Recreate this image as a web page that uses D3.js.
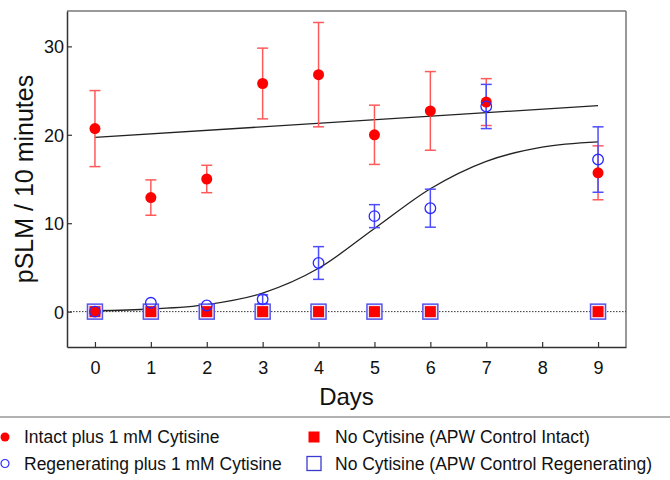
<!DOCTYPE html>
<html>
<head>
<meta charset="utf-8">
<script src="https://cdn.jsdelivr.net/npm/d3@7"></script>
<style>
  body { margin: 0; background: #fff; }
  svg { font-family: "Liberation Sans", Arial, sans-serif; }
</style>
</head>
<body>
<div id="viz"></div>
<script>
const days = [0, 1, 2, 3, 4, 5, 6, 7, 9]
const intactMean = [20.7, 12.9, 15.0, 25.8, 26.8, 20.0, 22.7, 23.7, 15.7]
const intactErr = [4.3, 2.0, 1.55, 4.0, 5.9, 3.35, 4.45, 2.65, 3.05]
const regenMean = [0, 1.0, 0.7, 1.4, 5.5, 10.8, 11.7, 23.2, 17.2]
const regenErr = [0, 0, 0, 0.5, 1.85, 1.3, 2.15, 2.5, 3.7]
const controlDays = [0, 1, 2, 3, 4, 5, 6, 9]
const controlIntact = [0, 0, 0, 0, 0, 0, 0, 0]
const controlRegen = [0, 0, 0, 0, 0, 0, 0, 0]

// fitted curves
const linearFitDays = [0, 9]
const linearFit = [19.7, 23.3]
const sigmoidDays = [0, 1, 2, 3, 4, 5, 6, 7, 8, 9]
const sigmoidFit = [0.1, 0.3, 0.8, 2.1, 4.9, 9.4, 13.9, 17.0, 18.6, 19.2]

const xTicks = [0, 1, 2, 3, 4, 5, 6, 7, 8, 9]
const yTicks = [0, 10, 20, 30]

const legendItems = [
  {label: "Intact plus 1 mM Cytisine", type: "dot", col: 0, row: 0},
  {label: "Regenerating plus 1 mM Cytisine", type: "ring", col: 0, row: 1},
  {label: "No Cytisine (APW Control Intact)", type: "redsq", col: 1, row: 0},
  {label: "No Cytisine (APW Control Regenerating)", type: "bluesq", col: 1, row: 1}
]

const W = 670, H = 480
const pLeft = 67, pRight = 626, pTop = 11, pBottom = 347

const svg = d3.select("#viz").append("svg").attr("width", W).attr("height", H)

const x = d3.scaleLinear().domain([-0.5, 9.5]).range([pLeft, pRight])
const y = d3.scaleLinear().domain([-4, 34]).range([pBottom, pTop])

// frame: top and right in gray
svg.append("line").attr("x1", pLeft).attr("x2", pRight).attr("y1", pTop).attr("y2", pTop)
  .attr("stroke", "#777").attr("stroke-width", 1.5)
svg.append("line").attr("x1", pRight).attr("x2", pRight).attr("y1", pTop).attr("y2", pBottom)
  .attr("stroke", "#777").attr("stroke-width", 1.5)

// axes, ticks pointing inward
const xAxis = svg.append("g").attr("transform", `translate(0,${pBottom})`)
  .call(d3.axisBottom(x).tickValues(xTicks).tickSizeInner(-5).tickSizeOuter(0).tickPadding(14))
const yAxis = svg.append("g").attr("transform", `translate(${pLeft},0)`)
  .call(d3.axisLeft(y).tickValues(yTicks).tickSizeInner(-5).tickSizeOuter(0).tickPadding(3))

for (const g of [xAxis, yAxis]) {
  g.select(".domain").attr("stroke", "#333").attr("stroke-width", 1.5)
  g.selectAll(".tick line").attr("stroke", "#333").attr("stroke-width", 1.2)
  g.selectAll(".tick text").attr("fill", "#111").attr("font-size", 18)
    .attr("font-family", "Liberation Sans, Arial, sans-serif")
}
yAxis.selectAll(".tick text").attr("dy", "0.36em")

// axis titles
svg.append("text").attr("x", (pLeft + pRight) / 2).attr("y", 405)
  .attr("text-anchor", "middle").attr("font-size", 24).attr("fill", "#111").text("Days")
svg.append("text").attr("transform", `translate(33,${(pTop + pBottom) / 2}) rotate(-90)`)
  .attr("text-anchor", "middle").attr("font-size", 25).attr("fill", "#111").text("pSLM / 10 minutes")

// zero line
svg.append("line").attr("x1", pLeft).attr("x2", pRight).attr("y1", y(0)).attr("y2", y(0))
  .attr("stroke", "#333").attr("stroke-width", 1).attr("stroke-dasharray", "1.5,1.5")

// fits
const line = d3.line().x(d => x(d[0])).y(d => y(d[1]))
svg.append("path").attr("d", line(d3.zip(linearFitDays, linearFit)))
  .attr("fill", "none").attr("stroke", "#222").attr("stroke-width", 1.3)
svg.append("path").attr("d", line.curve(d3.curveMonotoneX)(d3.zip(sigmoidDays, sigmoidFit)))
  .attr("fill", "none").attr("stroke", "#222").attr("stroke-width", 1.3)

// control squares
svg.selectAll(".bsq").data(controlDays).enter().append("rect").attr("class", "bsq")
  .attr("x", (d) => x(d) - 7.5).attr("y", (d, i) => y(controlRegen[i]) - 7.5)
  .attr("width", 15).attr("height", 15)
  .attr("fill", "#f4e8f4").attr("stroke", "#5555ee").attr("stroke-width", 1.5)
svg.selectAll(".rsq").data(controlDays).enter().append("rect").attr("class", "rsq")
  .attr("x", (d) => x(d) - 5.5).attr("y", (d, i) => y(controlIntact[i]) - 5.5)
  .attr("width", 11).attr("height", 11).attr("fill", "#ff0000")

// error bars
function errorBars(mean, err, color) {
  const g = svg.append("g").attr("stroke", color).attr("stroke-width", 1.5)
  days.forEach((d, i) => {
    if (err[i] <= 0) return
    const cx = x(d), y1 = y(mean[i] + err[i]), y2 = y(mean[i] - err[i])
    g.append("line").attr("x1", cx).attr("x2", cx).attr("y1", y1).attr("y2", y2)
    g.append("line").attr("x1", cx - 5.5).attr("x2", cx + 5.5).attr("y1", y1).attr("y2", y1)
    g.append("line").attr("x1", cx - 5.5).attr("x2", cx + 5.5).attr("y1", y2).attr("y2", y2)
  })
}
errorBars(intactMean, intactErr, "#ff5a5a")
errorBars(regenMean, regenErr, "#4d4dff")

svg.selectAll(".dot").data(days).enter().append("circle").attr("class", "dot")
  .attr("cx", d => x(d)).attr("cy", (d, i) => y(intactMean[i])).attr("r", 5.5)
  .attr("fill", "#ff0000")
svg.selectAll(".ring").data(days).enter().append("circle").attr("class", "ring")
  .attr("cx", d => x(d)).attr("cy", (d, i) => y(regenMean[i])).attr("r", 5.3)
  .attr("fill", "none").attr("stroke", "#2a2aff").attr("stroke-width", 1.3)

// legend
svg.append("line").attr("x1", 0).attr("x2", W).attr("y1", 417).attr("y2", 417)
  .attr("stroke", "#999").attr("stroke-width", 1.5)

const legend = svg.selectAll(".leg").data(legendItems).enter().append("g").attr("class", "leg")
  .attr("transform", d => `translate(${d.col == 0 ? 5 : 314},${437 + d.row * 26.5})`)
legend.each(function (d) {
  const g = d3.select(this)
  if (d.type == "dot") g.append("circle").attr("r", 4.5).attr("fill", "#ff0000")
  else if (d.type == "ring") g.append("circle").attr("r", 4).attr("fill", "none").attr("stroke", "#2a2aff").attr("stroke-width", 1.2)
  else if (d.type == "redsq") g.append("rect").attr("x", -5.5).attr("y", -5.5).attr("width", 11).attr("height", 11).attr("fill", "#ff0000")
  else g.append("rect").attr("x", -7).attr("y", -7).attr("width", 14).attr("height", 14).attr("fill", "none").attr("stroke", "#3a3ad0").attr("stroke-width", 1.3)
  g.append("text").attr("x", d.col == 0 ? 19 : 21).attr("dy", "0.36em")
    .attr("font-size", 17.5).attr("fill", "#111").text(d.label)
})
</script>
</body>
</html>
